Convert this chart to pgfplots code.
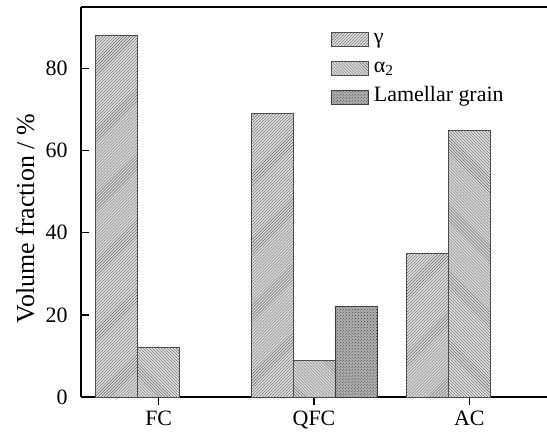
\documentclass[border=0pt]{standalone}
\usepackage{fontspec}
\setmainfont{Liberation Serif}
\usepackage{pgfplots}
\pgfplotsset{compat=1.18}
\usetikzlibrary{patterns}
\begin{document}
\fontsize{22}{26}\selectfont
\begin{tikzpicture}
\begin{axis}[
  scale only axis, width=466bp, height=390bp,
  xmin=-0.5, xmax=2.5, ymin=0, ymax=95,
  axis x line=box, axis y line=left,
  y axis line style={-}, x axis line style={-},
  axis line style={line width=1.3pt},
  xtick={0,1,2}, xticklabels={FC,QFC,AC},
  ytick={0,20,40,60,80},
  xtick pos=bottom, ytick pos=left,
  xtick align=outside, ytick align=inside,
  major tick length=8bp,
  every tick/.style={black, line width=1.3pt},
  /pgf/number format/assume math mode=true,
  yticklabel style={xshift=-6bp},
  xticklabel style={yshift=2bp},
  ylabel={Volume fraction / \%},
  every axis y label/.style={at={(axis description cs:-0.12,0.457)}, rotate=90, anchor=center, font=\fontsize{26}{30}\selectfont},
  legend style={at={(axis description cs:0.529,0.95)}, anchor=north west, draw=none, fill=none, row sep=8bp,
    nodes={text height=15bp, text depth=6bp, inner ysep=0pt}},
  legend cell align=left,
  legend image code/.code={\draw[#1] (6bp,-7bp) rectangle (43bp,7bp);},
]
\addplot[ybar, bar width=0.27, bar shift=-0.27, draw=black!70, line width=0.6pt, fill=gray!22,
  postaction={pattern=north east lines, pattern color=black!65}]
  coordinates {(0,88) (1,69) (2,35)};
\addplot[ybar, bar width=0.27, bar shift=0, draw=black!70, line width=0.6pt, fill=gray!22,
  postaction={pattern=north west lines, pattern color=black!65}]
  coordinates {(0,12) (1,9) (2,65)};
\addplot[ybar, bar width=0.27, bar shift=0.27, draw=black!75, line width=0.6pt, fill=gray!60,
  postaction={pattern=crosshatch dots, pattern color=black!80}]
  coordinates {(1,22)};
\legend{\,γ, \,α\textsubscript{2}, \,Lamellar grain}
\end{axis}
\pgfresetboundingbox
\path[use as bounding box] ([xshift=-81bp,yshift=-35bp]current axis.south west) rectangle ([yshift=7bp]current axis.north east);
\end{tikzpicture}
\end{document}
